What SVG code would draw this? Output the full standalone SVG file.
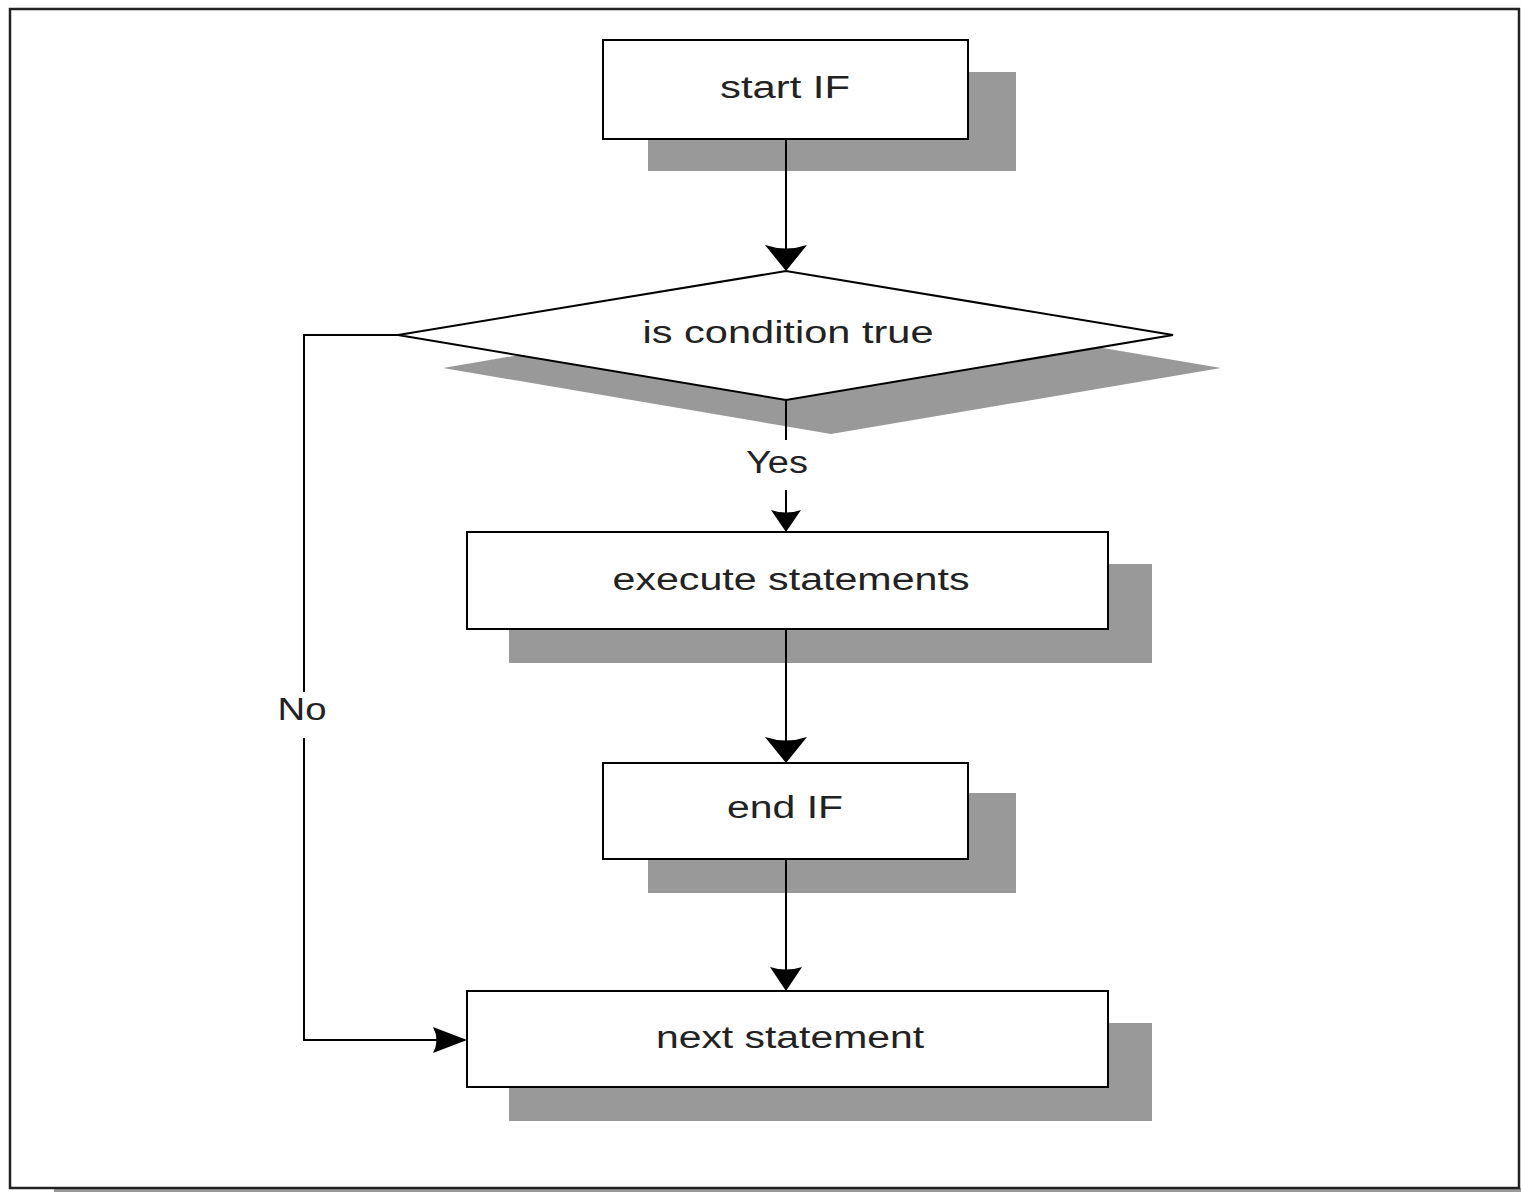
<svg xmlns="http://www.w3.org/2000/svg" width="1521" height="1192" viewBox="0 0 1521 1192">
<style>
.box{fill:#fff;stroke:#000;stroke-width:2}
.sh{fill:#999}
.ln{fill:none;stroke:#000;stroke-width:2}
.t{font-family:"Liberation Sans",Arial,sans-serif;font-size:31px;fill:#222;text-anchor:middle}
</style>
<rect width="1521" height="1192" fill="#fff"/>
<rect x="54" y="1188" width="1467" height="4" fill="#999"/>
<rect x="10" y="9" width="1509" height="1179" fill="none" stroke="#222" stroke-width="2.5"/>
<g id="start">
<rect class="sh" x="648" y="72" width="368" height="99"/>
<rect class="box" x="603" y="40" width="365" height="99"/>
<text class="t" x="785" y="98" textLength="130" lengthAdjust="spacingAndGlyphs">start IF</text>
</g>
<g id="condition">
<polygon class="sh" points="443,368 831,302 1221,368 831,434"/>
<polygon class="box" points="398,335 786,271 1173,335 786,400"/>
<text class="t" x="788" y="343" textLength="291" lengthAdjust="spacingAndGlyphs">is condition true</text>
</g>
<g id="execute">
<rect class="sh" x="509" y="564" width="643" height="99"/>
<rect class="box" x="467" y="532" width="641" height="97"/>
<text class="t" x="791" y="590" textLength="357" lengthAdjust="spacingAndGlyphs">execute statements</text>
</g>
<g id="end">
<rect class="sh" x="648" y="793" width="368" height="100"/>
<rect class="box" x="603" y="763" width="365" height="96"/>
<text class="t" x="785" y="818" textLength="116" lengthAdjust="spacingAndGlyphs">end IF</text>
</g>
<g id="next">
<rect class="sh" x="509" y="1023" width="643" height="98"/>
<rect class="box" x="467" y="991" width="641" height="96"/>
<text class="t" x="790" y="1048" textLength="268" lengthAdjust="spacingAndGlyphs">next statement</text>
</g>
<g id="connectors">
<line class="ln" x1="786" y1="139" x2="786" y2="269"/>
<path d="M765,245 Q786,252 807,245 L786,271 Z"/>
<line class="ln" x1="786" y1="400" x2="786" y2="440"/>
<line class="ln" x1="786" y1="490" x2="786" y2="530"/>
<path d="M771,510 Q786,515 801,510 L786,532 Z"/>
<line class="ln" x1="786" y1="629" x2="786" y2="761"/>
<path d="M765,737 Q786,744 807,737 L786,763 Z"/>
<line class="ln" x1="786" y1="859" x2="786" y2="989"/>
<path d="M770,967 Q786,972 802,967 L786,991 Z"/>
<polyline class="ln" points="398,335 304,335 304,692"/>
<polyline class="ln" points="304,738 304,1040 465,1040"/>
<path d="M433,1027 Q440,1040 433,1053 L467,1040 Z"/>
<text class="t" x="777" y="473" textLength="62" lengthAdjust="spacingAndGlyphs">Yes</text>
<text class="t" x="302" y="720" textLength="49" lengthAdjust="spacingAndGlyphs">No</text>
</g>
</svg>
